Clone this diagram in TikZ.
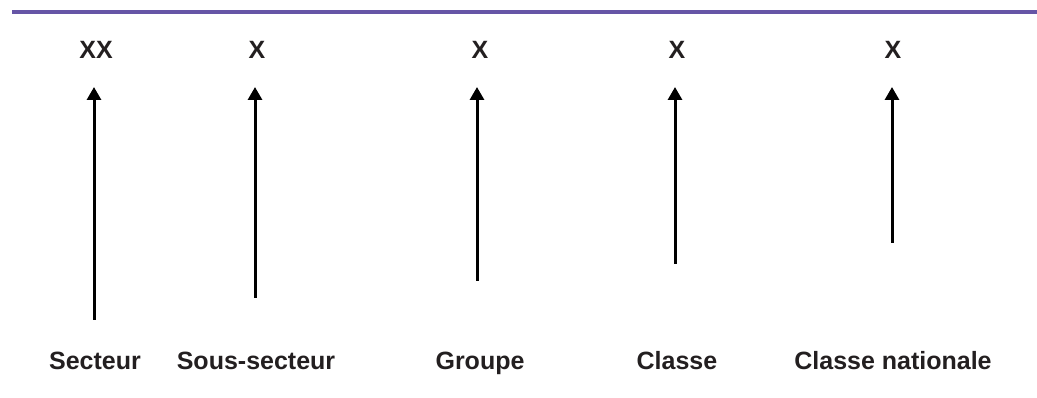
\documentclass[tikz,border=0pt]{standalone}
\usepackage{fontspec}
\setmainfont{Liberation Sans}
\usetikzlibrary{arrows.meta}
\definecolor{rulepurple}{HTML}{6655A6}
\definecolor{textdark}{HTML}{231F20}
\tikzset{
  lbl/.style={font=\bfseries\fontsize{25}{30}\selectfont, text=textdark, anchor=base, inner sep=0pt},
  uparrow/.style={line width=3pt, -{Triangle[length=13pt,width=14pt]}, black},
}
\begin{document}
\begin{tikzpicture}[x=1pt,y=-1pt]
\useasboundingbox (0,0) rectangle (1037,398);
\draw[rulepurple, line width=4pt] (12,12) -- (1037,12);
% top labels
\node[lbl] (t1) at (96,59) {XX};
\node[lbl] (t2) at (257,59) {X};
\node[lbl] (t3) at (480,59) {X};
\node[lbl] (t4) at (677,59) {X};
\node[lbl] (t5) at (893,59) {X};
% bottom labels
\node[lbl] (b1) at (95,370) {Secteur};
\node[lbl] (b2) at (256,370) {Sous-secteur};
\node[lbl] (b3) at (480,370) {Groupe};
\node[lbl] (b4) at (677,370) {Classe};
\node[lbl] (b5) at (893,370) {Classe nationale};
% arrow ends
\coordinate (s1) at (94,320);  \coordinate (e1) at (94,87);
\coordinate (s2) at (255,298); \coordinate (e2) at (255,87);
\coordinate (s3) at (477,281); \coordinate (e3) at (477,87);
\coordinate (s4) at (675,264); \coordinate (e4) at (675,87);
\coordinate (s5) at (892,243); \coordinate (e5) at (892,87);
\foreach \i in {1,...,5} { \draw[uparrow] (s\i) -- (e\i); }
\end{tikzpicture}
\end{document}
